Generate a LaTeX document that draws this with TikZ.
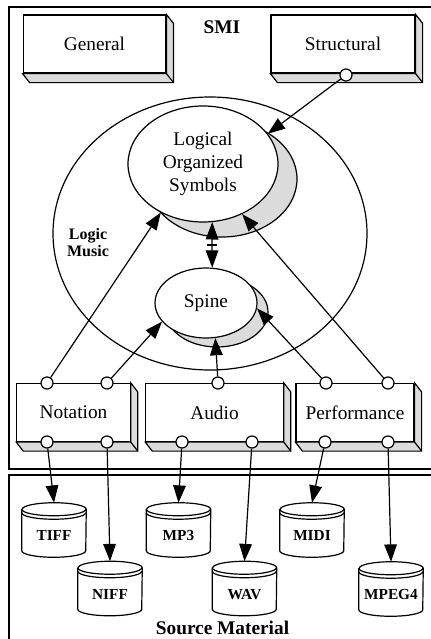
\documentclass[tikz,border=0pt]{standalone}
\usepackage{fontspec}
\setmainfont{Liberation Serif}
\usetikzlibrary{shapes.geometric}
\usetikzlibrary{arrows.meta}

\begin{document}
\begin{tikzpicture}[x=0.75pt,y=-0.75pt]
        \tikzset{line/.style={line width=0.9pt}};
        \tikzset{box/.style={line, draw, fill=white, minimum height=43.5pt, inner sep=0pt, font=\fontsize{14.5}{17}\selectfont}};
        \tikzset{port/.style={line, draw, fill=white, circle, minimum size=9pt, inner sep=0pt}};
        \tikzset{blob/.style={line, draw, fill=white, ellipse, inner sep=0pt, align=center, font=\fontsize{14.5}{17}\selectfont}};
        \tikzset{dropfill/.style={line, fill=black!14}};
        \tikzset{arr/.style={line, -{Triangle[length=13pt,width=9.5pt]}}};
        \tikzset{disk/.style={minimum width=48pt, minimum height=40.5pt, inner sep=0pt, text height=16pt, text depth=0pt, font=\bfseries\fontsize{11.5}{13}\selectfont}};
        \tikzset{title/.style={font=\bfseries\fontsize{14.5}{17}\selectfont}};

        \useasboundingbox (0,0) rectangle (430,639);

        \draw[line] (440,7) -- (9,7) -- (9,469) -- (440,469);
        \draw[line] (440,475) -- (9,475) -- (9,650);
        \node[title] (smi) at (222,27) {SMI};
        \node[title] (src) at (222.5,628) {Source Material};

        \node[box, minimum width=107pt] (general) at (94.5,44) {General};
        \node[box, minimum width=108pt] (structural) at (343,44) {Structural};
        \node[box, minimum width=85pt] (notation) at (73.5,412.5) {Notation};
        \node[box, minimum width=103pt] (audio) at (214.5,412.5) {Audio};
        \node[box, minimum width=88.5pt] (performance) at (355,412.5) {Performance};
        \foreach \b in {general,structural,notation,audio,performance}{
            \filldraw[line, fill=black!14] (\b.north east) -- ++(7,9) |- ([shift={(7,9)}]\b.south west) -- (\b.south west) -- (\b.south east) -- cycle;
            \draw[line] (\b.south east) -- ++(7,9);
        }

        \node[line, draw, ellipse, minimum width=235.5pt, minimum height=204.75pt, inner sep=0pt] (logic) at (210,233.5) {};
        \node[font=\bfseries\fontsize{12}{12.75}\selectfont, align=center] (logiclbl) at (88,243) {Logic\\Music};

        \filldraw[dropfill] (222,179) ellipse [x radius=75, y radius=58];
        \node[blob, minimum width=112.5pt, minimum height=87pt] (los) at (203,164) {Logical\\Organized\\Symbols};
        \filldraw[dropfill] (217,312) ellipse [x radius=51, y radius=35];
        \node[blob, minimum width=76.5pt, minimum height=52.5pt] (spine) at (206,303) {Spine};

        \node[port] (st1) at (346,75) {};
        \node[port] (nt1) at (47,383) {};
        \node[port] (nt2) at (107,383) {};
        \node[port] (au1) at (218,383) {};
        \node[port] (pf1) at (326,383) {};
        \node[port] (pf2) at (388,383) {};
        \node[port] (nb1) at (47,442) {};
        \node[port] (nb2) at (107,442) {};
        \node[port] (ab1) at (182,442) {};
        \node[port] (ab2) at (252,442) {};
        \node[port] (pb1) at (325,442) {};
        \node[port] (pb2) at (388,442) {};

        \node[disk] (tiff) at (54,530) {TIFF};
        \node[disk] (niff) at (110,588.5) {NIFF};
        \node[disk] (mp3) at (178.5,530) {MP3};
        \node[disk] (wav) at (244.5,588.5) {WAV};
        \node[disk] (midi) at (312,530) {MIDI};
        \node[disk] (mpeg) at (391,589) {MPEG4};
        \foreach \d in {tiff,niff,mp3,wav,midi,mpeg}{
            \draw[line] ([shift={(0,6.5)}]\d.north west) -- ([shift={(0,-6.5)}]\d.south west)
                arc[start angle=180, end angle=0, x radius=32, y radius=6.5]
                -- ([shift={(0,6.5)}]\d.north east)
                arc[start angle=0, end angle=-180, x radius=32, y radius=6.5];
            \draw[line] ([shift={(0,6.5)}]\d.north west) arc[start angle=180, end angle=0, x radius=32, y radius=6.5];
            \draw[line] ([shift={(0,10)}]\d.north west) arc[start angle=180, end angle=0, x radius=32, y radius=6.5];
        }

        \draw[arr] (st1) -- (los.25);
        \draw[arr] (nt1) -- (los.229);
        \draw[arr] (nt2) -- (spine.203);
        \draw[arr] (au1) -- (spine.285);
        \draw[arr] (pf1) -- (spine.354);
        \draw[arr] (pf2) -- (los.308);

        \coordinate (mid) at (212,245);
        \draw[arr] (mid) -- (los.279);
        \draw[arr] (mid) -- (spine.80);
        \draw[line] ([xshift=-3.5pt]mid) -- ([xshift=3.5pt]mid);

        \draw[arr] (nb1) -- (tiff.north);
        \draw[arr] (nb2) -- (niff.north);
        \draw[arr] (ab1) -- (mp3.north);
        \draw[arr] (ab2) -- (wav.north);
        \draw[arr] (pb1) -- (midi.north);
        \draw[arr] (pb2) -- (mpeg.north);
    \end{tikzpicture}
\end{document}
